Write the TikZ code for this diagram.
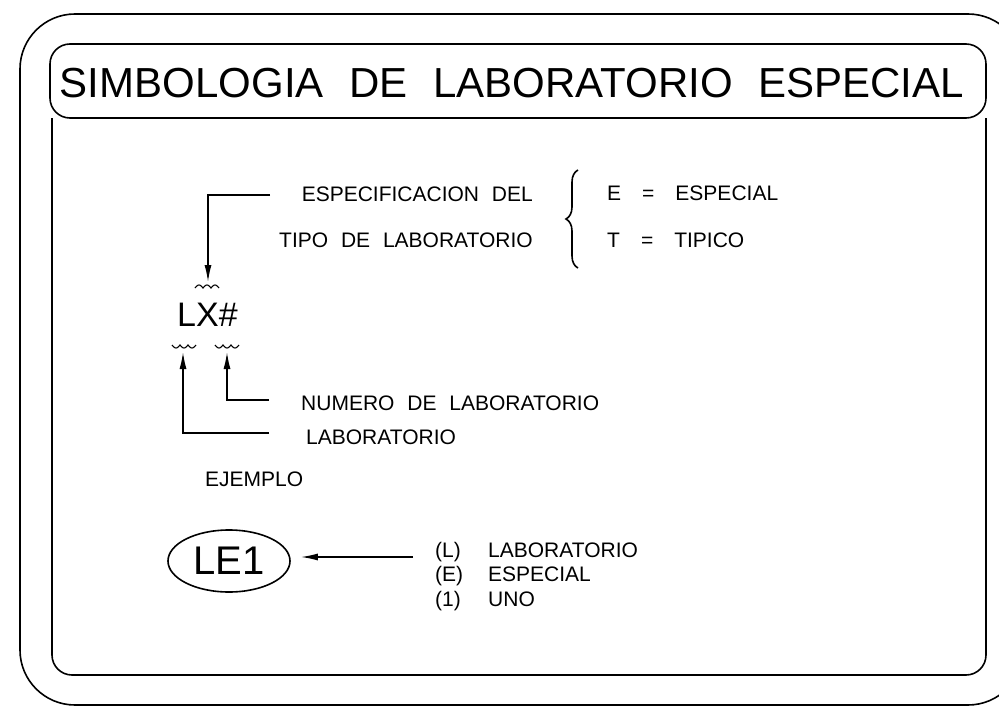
\documentclass[tikz,border=0pt]{standalone}
\usepackage{fontspec}
\setmainfont{Liberation Sans}[WordSpace=2.2]
\usetikzlibrary{arrows.meta,shapes.geometric,decorations.pathreplacing}

\tikzset{
  txt/.style={inner sep=0pt, font=\fontsize{21}{25}\selectfont},
  pointer/.style={-{Latex[length=17pt,width=7pt]}, line width=1.5pt},
  frame/.style={line width=1.6pt},
}

\begin{document}
\begin{tikzpicture}[x=1pt,y=-1pt]
      \useasboundingbox (0,0) rectangle (999,709);
      \clip (0,0) rectangle (999,709);

      % frames
      \draw[frame,rounded corners=55] (20,14) rectangle (1023,705);
      \draw[frame,rounded corners=20] (50,44) rectangle (986,118);
      \draw[frame,rounded corners=20] (52,118) -- (52,675) -- (986,675) -- (986,118);

      \node[inner sep=0pt,font=\fontsize{42}{48}\selectfont,anchor=base] (title) at (512,98) {SIMBOLOGIA DE LABORATORIO ESPECIAL};

      % specification of type
      \node[txt,anchor=base east] (spec) at (533,201) {ESPECIFICACION DEL};
      \node[txt,anchor=base east] (tipo) at (533,247) {TIPO DE LABORATORIO};
      \draw[line width=1.6pt,decorate,decoration={brace,amplitude=12pt}] (578,268) -- (578,170);
      \node[txt,anchor=base west] (esp) at (607,200) {E\quad=\quad ESPECIAL};
      \node[txt,anchor=base west] (tip) at (607,247) {T\quad=\quad TIPICO};

      % symbol
      \node[inner sep=0pt,font=\fontsize{34}{40}\selectfont,anchor=base west] (lx) at (177,326) {LX\#};
      \draw[line width=1.1pt,domain=0:24,samples=49,smooth] plot ({195+\x},{288-3*abs(sin(\x*22.5))});
      \draw[line width=1.1pt,domain=0:24,samples=49,smooth] plot ({172+\x},{345+3*abs(sin(\x*22.5))});
      \draw[line width=1.1pt,domain=0:24,samples=49,smooth] plot ({215+\x},{345+3*abs(sin(\x*22.5))});

      \coordinate (s1) at (270,195);
      \coordinate (xt) at (208,282);
      \coordinate (n1) at (269,400);
      \coordinate (hb) at (227,352);
      \coordinate (l1) at (269,433);
      \coordinate (lb) at (183,352);

      \draw[pointer] (s1) -| (xt);
      \draw[pointer] (n1) -| (hb);
      \draw[pointer] (l1) -| (lb);

      \node[txt,anchor=base west] (num) at (301,410) {NUMERO DE LABORATORIO};
      \node[txt,anchor=base west] (lab) at (306,444) {LABORATORIO};

      % example
      \node[txt,anchor=base west] (ej) at (205,486) {EJEMPLO};
      \node[draw,ellipse,line width=1.6pt,inner sep=0pt,minimum width=122pt,minimum height=62pt,
            font=\fontsize{40}{46}\selectfont] (le) at (229,561) {LE1};
      \coordinate (e0) at (413,557);
      \draw[pointer,shorten >=10pt] (e0) -- (le.east |- e0);

      \node[txt,anchor=base west] (kl) at (435,557) {(L)};
      \node[txt,anchor=base west] (ke) at (435,581) {(E)};
      \node[txt,anchor=base west] (k1) at (435,606) {(1)};
      \node[txt,anchor=base west] (wl) at (488,557) {LABORATORIO};
      \node[txt,anchor=base west] (we) at (488,581) {ESPECIAL};
      \node[txt,anchor=base west] (w1) at (488,606) {UNO};
\end{tikzpicture}
\end{document}
